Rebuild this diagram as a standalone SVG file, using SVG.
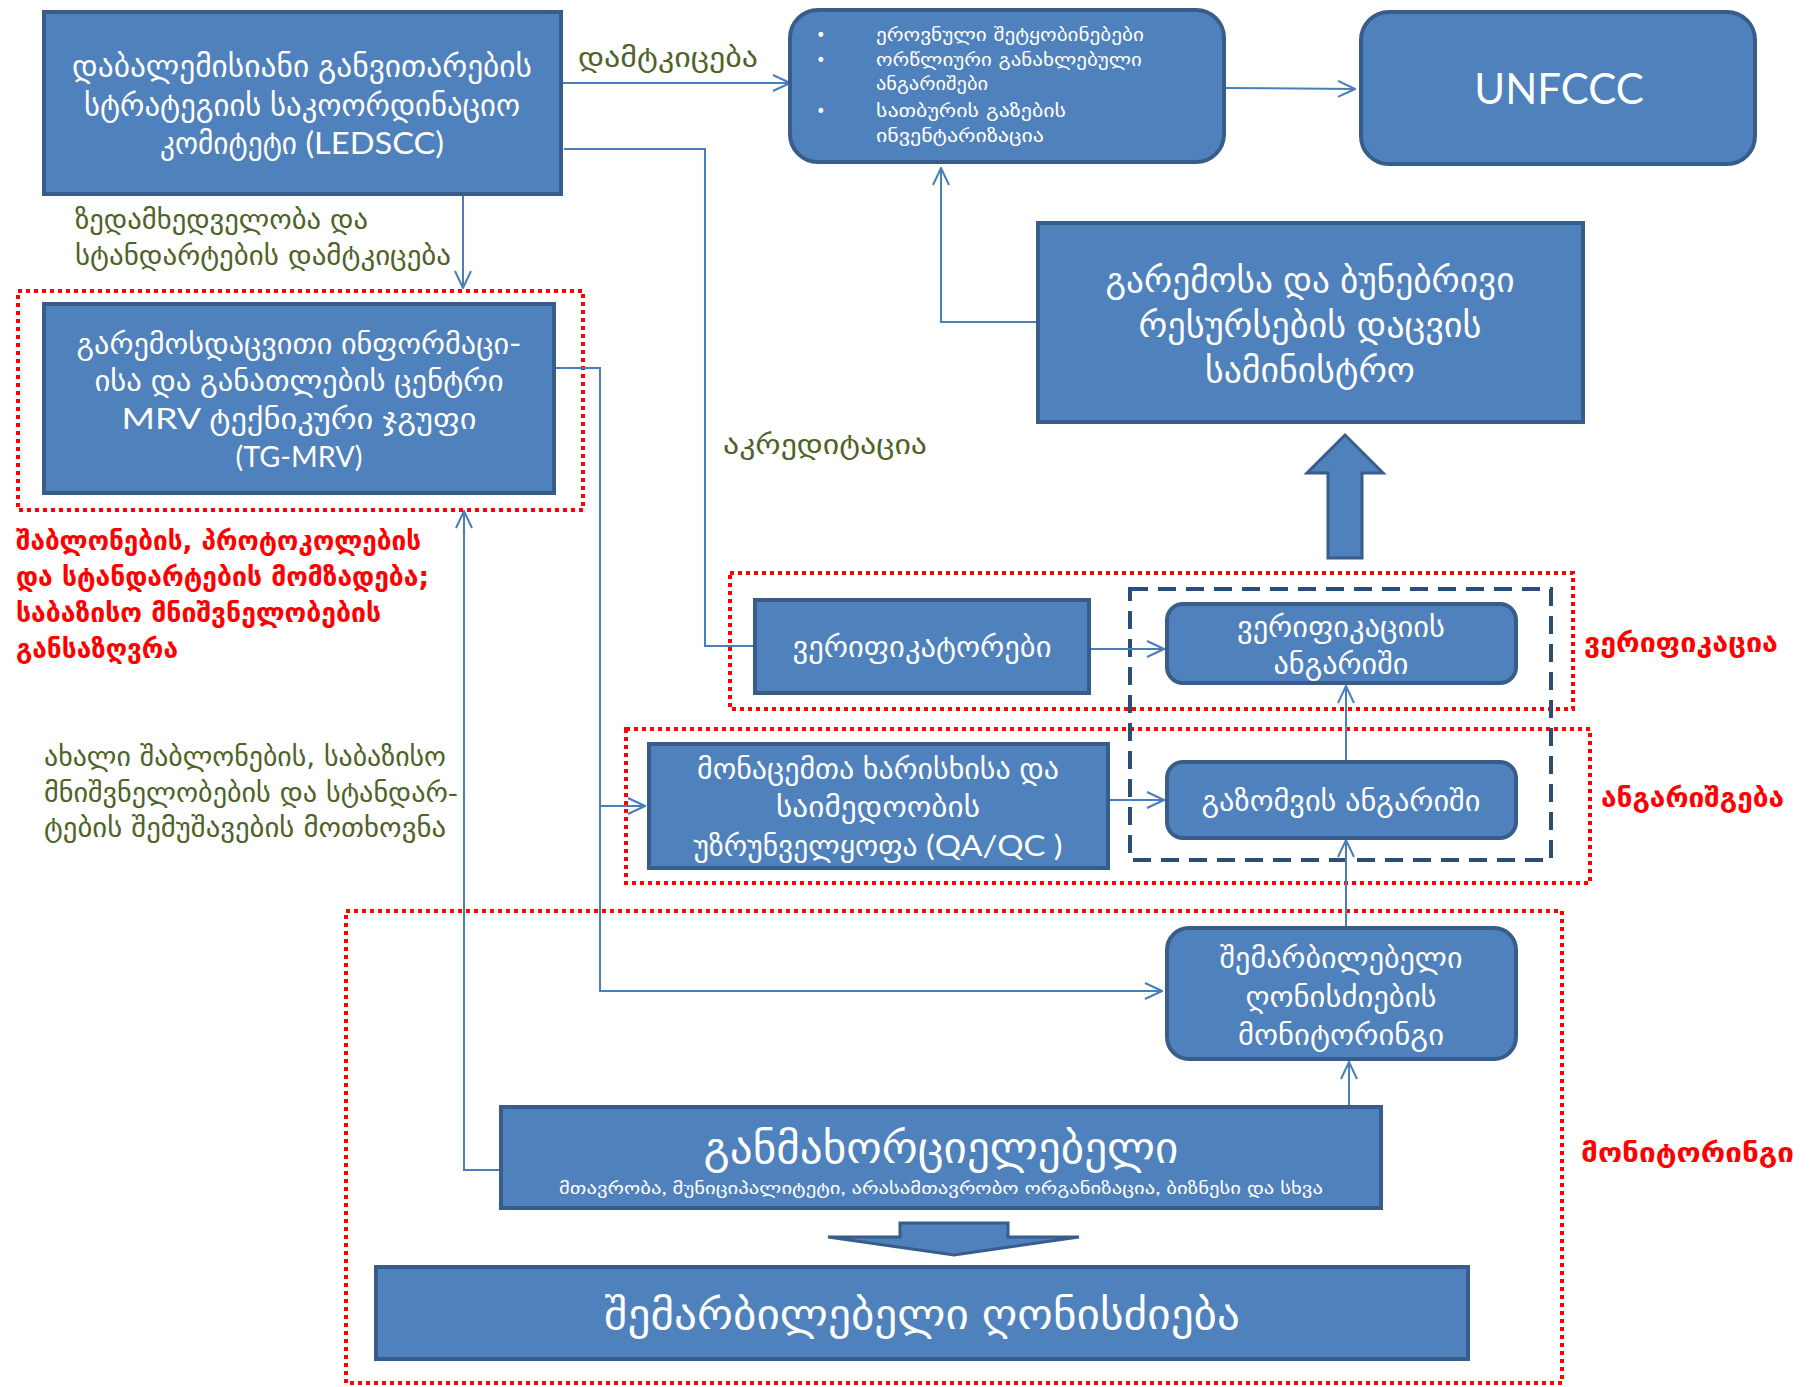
<svg xmlns="http://www.w3.org/2000/svg" width="1813" height="1387" viewBox="0 0 1813 1387">
<defs>
<style>
.box{fill:#4F81BD;stroke:#385D8A;stroke-width:4}
.t{fill:#fff;font-family:Lato,"DejaVu Sans Condensed","DejaVu Sans",sans-serif;text-anchor:middle}
.tl{fill:#fff;font-family:"DejaVu Sans Condensed","DejaVu Sans",sans-serif}
.g{fill:#4F6228;font-family:"DejaVu Sans Condensed","DejaVu Sans",sans-serif;font-size:27px}
.r{fill:#FF0000;font-family:"DejaVu Sans Condensed","DejaVu Sans",sans-serif;font-size:27px;font-weight:bold}
.red{fill:none;stroke:#FF0000;stroke-width:4;stroke-dasharray:4 4}
.dash{fill:none;stroke:#2C4D75;stroke-width:4;stroke-dasharray:18 10}
.c{fill:none;stroke:#4A7EBB;stroke-width:2}
.ca{fill:none;stroke:#4A7EBB;stroke-width:2;marker-end:url(#ah)}
.blk{fill:#4F81BD;stroke:#385D8A;stroke-width:3}
</style>
<marker id="ah" viewBox="0 0 20 20" refX="19" refY="10" markerWidth="20" markerHeight="20" markerUnits="userSpaceOnUse" orient="auto">
<path d="M2 2 L19 10 L2 18" fill="none" stroke="#4A7EBB" stroke-width="2"/>
</marker>
</defs>
<rect width="1813" height="1387" fill="#fff"/>

<g id="groups">
<rect class="red" x="18" y="291" width="565" height="219"/>
<rect class="red" x="730" y="573" width="843" height="136"/>
<rect class="red" x="626" y="729" width="964" height="154"/>
<rect class="red" x="346" y="911" width="1216" height="472"/>
<rect class="dash" x="1130" y="589" width="421" height="271"/>
</g>

<g id="connectors">
<path class="ca" d="M561 83 H790"/>
<path class="ca" d="M463 194 V288"/>
<path class="c" d="M564 149 H705 V646 H755"/>
<path class="ca" d="M1038 322 H941 V168"/>
<path class="ca" d="M1224 88 L1355 89"/>
<path class="ca" d="M554 368 H600 V991 H1162"/>
<path class="ca" d="M600 806 H645"/>
<path class="ca" d="M501 1170 H464 V511"/>
<path class="ca" d="M1349 1107 V1062"/>
<path class="ca" d="M1346 928 V840"/>
<path class="ca" d="M1346 762 V686"/>
<path class="ca" d="M1089 649 H1164"/>
<path class="ca" d="M1108 800 H1164"/>
<path class="blk" d="M1328 558 V473 H1307 L1345 435 L1383 473 H1362 V558 Z"/>
<path class="blk" d="M900 1223 H1008 V1237 H1079 L954 1255 L828 1237 H900 Z"/>
</g>

<g id="ledscc">
<rect class="box" x="44" y="12" width="517" height="182"/>
<g class="t" font-size="31">
<text x="302" y="77" textLength="460" lengthAdjust="spacingAndGlyphs">დაბალემისიანი განვითარების</text>
<text x="302" y="116" textLength="436" lengthAdjust="spacingAndGlyphs">სტრატეგიის საკოორდინაციო</text>
<text x="302" y="154" textLength="284" lengthAdjust="spacingAndGlyphs">კომიტეტი  (LEDSCC)</text>
</g>
</g>

<g id="reports">
<rect class="box" x="790" y="10" width="434" height="152" rx="28"/>
<g class="tl" font-size="18">
<text x="816" y="41">•</text><text x="816" y="66">•</text><text x="816" y="117">•</text>
<text x="876" y="41" textLength="268" lengthAdjust="spacingAndGlyphs">ეროვნული შეტყობინებები</text>
<text x="876" y="66" textLength="266" lengthAdjust="spacingAndGlyphs">ორწლიური განახლებული</text>
<text x="876" y="90" textLength="112" lengthAdjust="spacingAndGlyphs">ანგარიშები</text>
<text x="876" y="117" textLength="190" lengthAdjust="spacingAndGlyphs">სათბურის გაზების</text>
<text x="876" y="142" textLength="168" lengthAdjust="spacingAndGlyphs">ინვენტარიზაცია</text>
</g>
</g>

<g id="unfccc">
<rect class="box" x="1361" y="12" width="394" height="152" rx="28"/>
<text class="t" font-size="42" x="1559" y="104">UNFCCC</text>
</g>

<g id="ministry">
<rect class="box" x="1038" y="223" width="545" height="199"/>
<g class="t" font-size="34">
<text x="1310" y="292" textLength="409" lengthAdjust="spacingAndGlyphs">გარემოსა და ბუნებრივი</text>
<text x="1310" y="337" textLength="343" lengthAdjust="spacingAndGlyphs">რესურსების დაცვის</text>
<text x="1310" y="382" textLength="210" lengthAdjust="spacingAndGlyphs">სამინისტრო</text>
</g>
</g>

<g id="tgmrv">
<rect class="box" x="44" y="304" width="510" height="189"/>
<g class="t" font-size="29">
<text x="299" y="354" textLength="445" lengthAdjust="spacingAndGlyphs">გარემოსდაცვითი ინფორმაცი-</text>
<text x="299" y="391" textLength="409" lengthAdjust="spacingAndGlyphs">ისა და განათლების ცენტრი</text>
<text x="299" y="429" textLength="355" lengthAdjust="spacingAndGlyphs">MRV ტექნიკური  ჯგუფი</text>
<text x="299" y="467" textLength="127" lengthAdjust="spacingAndGlyphs">(TG-MRV)</text>
</g>
</g>

<g id="verifiers">
<rect class="box" x="755" y="600" width="334" height="93"/>
<text class="t" font-size="29" x="922" y="657" textLength="259" lengthAdjust="spacingAndGlyphs">ვერიფიკატორები</text>
</g>

<g id="verification-report">
<rect class="box" x="1167" y="604" width="349" height="79" rx="16"/>
<g class="t" font-size="29">
<text x="1341" y="637" textLength="208" lengthAdjust="spacingAndGlyphs">ვერიფიკაციის</text>
<text x="1341" y="674" textLength="135" lengthAdjust="spacingAndGlyphs">ანგარიში</text>
</g>
</g>

<g id="qaqc">
<rect class="box" x="649" y="744" width="459" height="124"/>
<g class="t" font-size="29">
<text x="878" y="779" textLength="362" lengthAdjust="spacingAndGlyphs">მონაცემთა ხარისხისა და</text>
<text x="878" y="817" textLength="204" lengthAdjust="spacingAndGlyphs">საიმედოობის</text>
<text x="878" y="856" textLength="369" lengthAdjust="spacingAndGlyphs">უზრუნველყოფა (QA/QC )</text>
</g>
</g>

<g id="measurement-report">
<rect class="box" x="1167" y="762" width="349" height="76" rx="16"/>
<text class="t" font-size="29" x="1341" y="811" textLength="279" lengthAdjust="spacingAndGlyphs">გაზომვის ანგარიში</text>
</g>

<g id="monitoring">
<rect class="box" x="1167" y="928" width="349" height="131" rx="22"/>
<g class="t" font-size="29">
<text x="1341" y="968" textLength="243" lengthAdjust="spacingAndGlyphs">შემარბილებელი</text>
<text x="1341" y="1007" textLength="191" lengthAdjust="spacingAndGlyphs">ღონისძიების</text>
<text x="1341" y="1045" textLength="206" lengthAdjust="spacingAndGlyphs">მონიტორინგი</text>
</g>
</g>

<g id="implementer">
<rect class="box" x="501" y="1107" width="880" height="101"/>
<text class="t" font-size="44" x="941" y="1163" textLength="475" lengthAdjust="spacingAndGlyphs">განმახორციელებელი</text>
<text class="t" font-size="17" x="941" y="1194" textLength="764" lengthAdjust="spacingAndGlyphs">მთავრობა, მუნიციპალიტეტი, არასამთავრობო ორგანიზაცია, ბიზნესი და სხვა</text>
</g>

<g id="mitigation">
<rect class="box" x="376" y="1267" width="1092" height="92"/>
<text class="t" font-size="42" x="922" y="1329" textLength="636" lengthAdjust="spacingAndGlyphs">შემარბილებელი ღონისძიება</text>
</g>

<g id="labels">
<text class="g" x="578" y="67" textLength="180" lengthAdjust="spacingAndGlyphs">დამტკიცება</text>
<text class="g" x="75" y="229" textLength="293" lengthAdjust="spacingAndGlyphs">ზედამხედველობა და</text>
<text class="g" x="75" y="265" textLength="376" lengthAdjust="spacingAndGlyphs">სტანდარტების დამტკიცება</text>
<text class="g" x="723" y="454" textLength="204" lengthAdjust="spacingAndGlyphs">აკრედიტაცია</text>
<text class="g" x="44" y="766" textLength="402" lengthAdjust="spacingAndGlyphs">ახალი შაბლონების, საბაზისო</text>
<text class="g" x="44" y="802" textLength="414" lengthAdjust="spacingAndGlyphs">მნიშვნელობების და სტანდარ-</text>
<text class="g" x="44" y="837" textLength="402" lengthAdjust="spacingAndGlyphs">ტების შემუშავების მოთხოვნა</text>
<text class="r" x="16" y="550" textLength="405" lengthAdjust="spacingAndGlyphs">შაბლონების, პროტოკოლების</text>
<text class="r" x="16" y="586" textLength="413" lengthAdjust="spacingAndGlyphs">და სტანდარტების მომზადება;</text>
<text class="r" x="16" y="622" textLength="365" lengthAdjust="spacingAndGlyphs">საბაზისო მნიშვნელობების</text>
<text class="r" x="16" y="658" textLength="162" lengthAdjust="spacingAndGlyphs">განსაზღვრა</text>
<text class="r" x="1584" y="652" textLength="194" lengthAdjust="spacingAndGlyphs">ვერიფიკაცია</text>
<text class="r" x="1601" y="807" textLength="183" lengthAdjust="spacingAndGlyphs">ანგარიშგება</text>
<text class="r" x="1581" y="1162" textLength="213" lengthAdjust="spacingAndGlyphs">მონიტორინგი</text>
</g>
</svg>
